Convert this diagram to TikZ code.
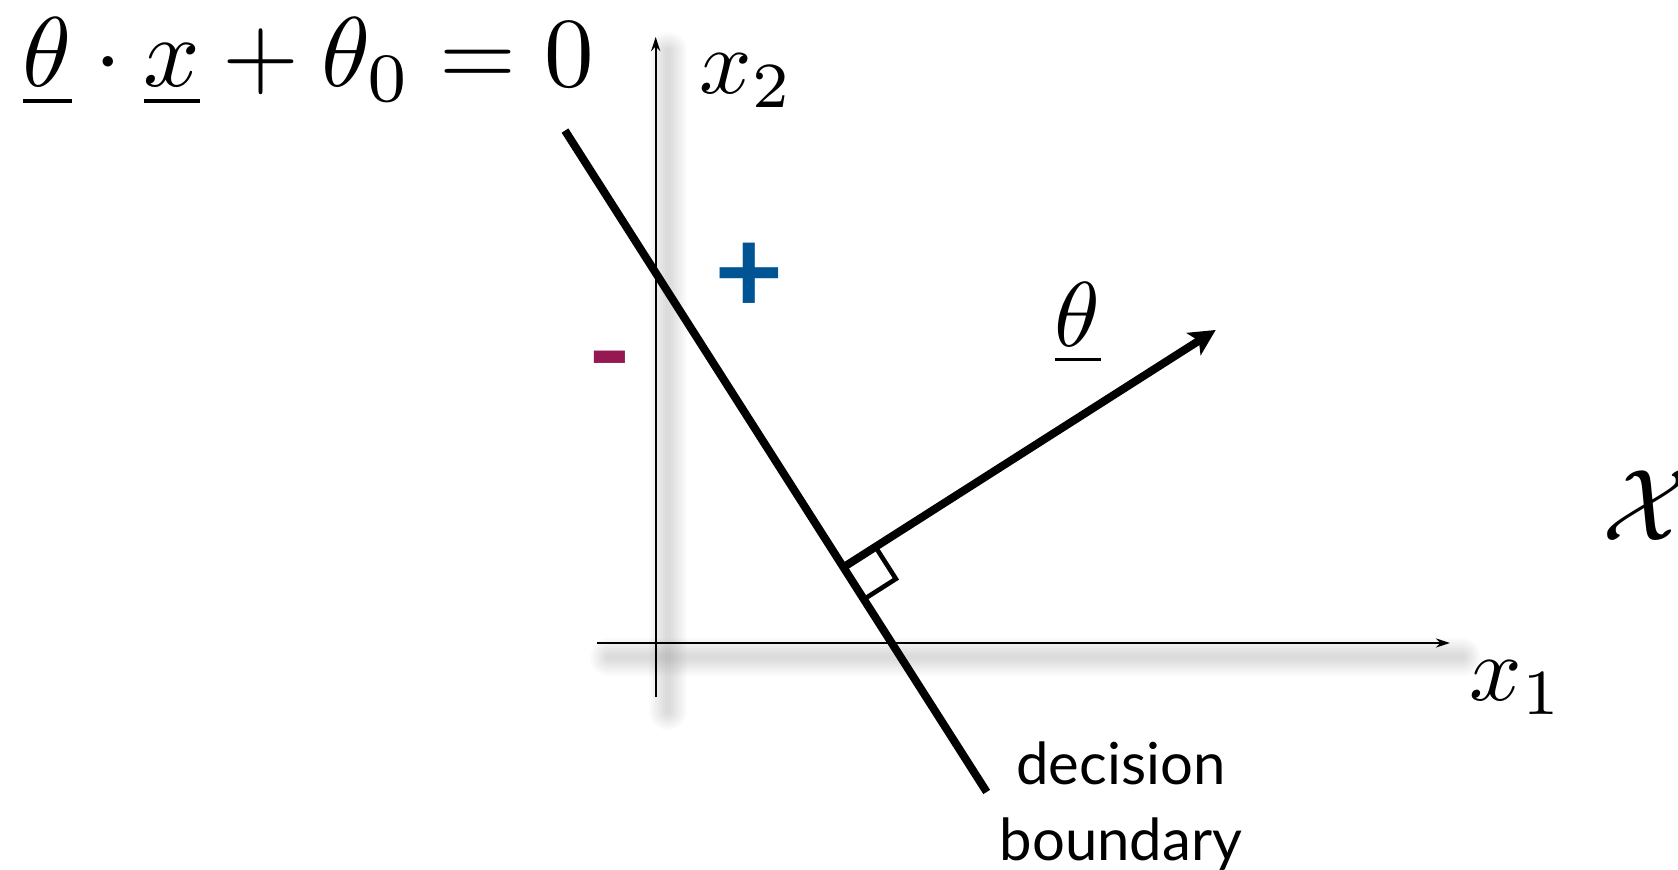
\documentclass[tikz,border=0pt]{standalone}
\usepackage{fontspec}
\newfontfamily\gillfont{Lato}
\usetikzlibrary{arrows.meta,calc}
\definecolor{plusblue}{RGB}{0,84,147}
\definecolor{minusmag}{RGB}{150,24,82}
\tikzset{
  axisline/.style={line width=1.2pt,-{Stealth[length=7pt,width=4.5pt]}},
  shadowline/.style={draw=black,draw opacity=0.016,line cap=round},
  boundaryline/.style={line width=4pt},
  thetaarrow/.style={line width=4pt,-{Stealth[length=13pt,width=13pt,inset=3pt]}},
  rightangle/.style={line width=2.3pt,line join=miter},
  mathlabel/.style={inner sep=0pt,anchor=base west,scale=4.6},
  signlabel/.style={inner sep=0pt,font=\gillfont\bfseries\fontsize{60}{60}\selectfont},
  wordlabel/.style={inner sep=0pt,align=center,anchor=north,font=\gillfont\fontsize{29}{38}\selectfont}
}
\begin{document}
\begin{tikzpicture}[x=0.5pt,y=-0.5pt]
\useasboundingbox (0,0) rectangle (1678,870);
% axes coordinates
\coordinate (ybot) at (655.7,697);
\coordinate (ytop) at (655.7,37);
\coordinate (xleft) at (597,643);
\coordinate (xright) at (1450,643);
% soft shadows of the axes
\foreach \w in {19pt,17pt,15pt,13pt,11pt,9pt,7pt,5pt,3pt}{
  \draw[shadowline,line width=\w] ($(ybot)+(12,14)$) -- ($(ytop)+(12,14)$);
  \draw[shadowline,line width=\w] ($(xleft)+(12,14)$) -- ($(xright)+(12,14)$);
}
\draw[axisline] (ybot) -- (ytop);
\draw[axisline] (xleft) -- (xright);
% decision boundary
\coordinate (b1) at (565,130.6);
\coordinate (b2) at (986.7,792);
\draw[boundaryline] (b1) -- (b2);
% theta vector
\coordinate (tip) at (1215.7,330);
\coordinate (foot) at ($(b1)!(tip)!(b2)$);
\draw[thetaarrow] (foot) -- (tip);
% right angle mark
\coordinate (sqa) at ($(foot)!19pt!(tip)$);
\coordinate (sqc) at ($(foot)!19pt!(b2)$);
\coordinate (sqb) at ($(sqa)+(sqc)-(foot)$);
\draw[rightangle] (sqa) -- (sqb) -- (sqc);
% labels
\node[mathlabel,scale=4.95/4.6] (eq) at (21,87) {$\underline{\theta}\cdot\underline{x}+\theta_0=0$};
\node[mathlabel] (x2) at (698,94) {$x_2$};
\node[mathlabel] (x1) at (1468,701) {$x_1$};
\node[mathlabel] (th) at (1053,346.7) {$\underline{\theta}$};
\node[mathlabel,scale=5.1/4.6] (calX) at (1600,541) {$\mathcal{X}$};
\node[signlabel,text=plusblue] (plus) at (748.8,278) {+};
\node[signlabel,text=minusmag] (minus) at (610,372) {-};
\node[wordlabel] (db) at (1121,741.7) {decision\\boundary};
\end{tikzpicture}
\end{document}
